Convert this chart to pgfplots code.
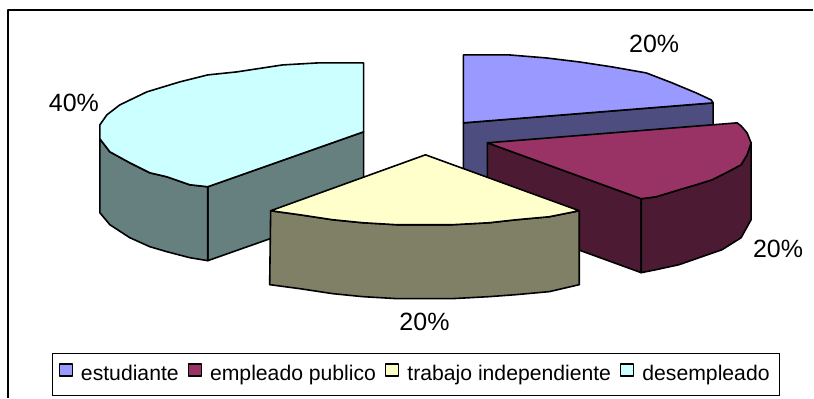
\documentclass[border=0pt]{standalone}
\usepackage{pgfplots}
\pgfplotsset{compat=1.18}
\usepackage{fontspec}
\setmainfont{Liberation Sans}
\definecolor{ctopA}{HTML}{9999FF}\definecolor{csideA}{HTML}{4D4D80}
\definecolor{ctopB}{HTML}{993366}\definecolor{csideB}{HTML}{4D1A33}
\definecolor{ctopC}{HTML}{FFFFCC}\definecolor{csideC}{HTML}{808066}
\definecolor{ctopD}{HTML}{CCFFFF}\definecolor{csideD}{HTML}{668080}
\begin{document}
\begin{tikzpicture}
\begin{axis}[
  scale only axis, width=814pt, height=398pt,
  xmin=0, xmax=814, ymin=0, ymax=398, y dir=reverse,
  hide axis, clip=false,
  every axis plot/.append style={draw=black, line width=1.6pt, line join=round},
  legend columns=4,
  legend style={at={(axis cs:52,353)}, anchor=north west, draw=black, line width=1.4pt,
    font=\fontsize{21.2pt}{24pt}\selectfont, inner xsep=6pt, inner ysep=10pt,
    nodes={inner sep=0pt, text height=16pt, text depth=5pt},
    /tikz/every even column/.append style={column sep=9pt},
    /tikz/every odd column/.append style={column sep=8pt}},
  legend image code/.code={\draw[#1, line width=1.4pt] (0pt,-1pt) rectangle (13pt,11pt);},
]
% page extent
\addplot[draw=none, forget plot] coordinates {(0,0) (814,398)};
% outer frame
\addplot[line width=2pt, forget plot] coordinates {(8,398) (8,10) (814,10)};
% estudiante
\addplot[fill=csideA, forget plot] coordinates {(464,123) (714,103) (714,177) (464,197)} -- cycle;
\addplot[fill=ctopA, forget plot] coordinates {(464,55) (510,55) (547,58) (580,62) (613,67) (647,73) (673,83) (697,93) (712,100) (714,103) (464,123)} -- cycle;
% desempleado
\addplot[fill=csideD, forget plot] coordinates {(208,187) (364,132) (364,206) (208,261)} -- cycle;
\addplot[fill=csideD, forget plot] coordinates {(100,139) (110,152) (130,163) (150,173) (167,177) (190,185) (208,187) (208,261) (190,258) (167,252) (150,247) (130,238) (110,225) (100,213)} -- cycle;
\addplot[fill=ctopD, forget plot] coordinates {(364,63) (318,63) (283,65) (237,72) (208,75) (180,82) (147,92) (120,105) (107,115) (100,125) (100,139) (110,152) (130,163) (150,173) (167,177) (190,185) (208,187) (364,132)} -- cycle;
% empleado publico
\addplot[fill=csideB, forget plot] coordinates {(488,143) (642,199) (642,273) (488,217)} -- cycle;
\addplot[fill=csideB, forget plot] coordinates {(642,199) (657,197) (680,190) (697,185) (713,180) (727,173) (742,165) (748,155) (752,143) (752,220) (742,238) (723,250) (700,258) (680,265) (657,270) (642,273)} -- cycle;
\addplot[fill=ctopB, forget plot] coordinates {(488,143) (738,123) (742,126) (748,133) (752,143) (748,155) (742,165) (727,173) (713,180) (697,185) (680,190) (657,197) (642,199)} -- cycle;
% trabajo independiente
\addplot[fill=csideC, forget plot] coordinates {(271,211) (300,215) (333,220) (363,223) (397,225) (453,225) (490,223) (517,220) (550,217) (580,211) (580,285) (550,292) (517,295) (490,297) (453,299) (397,299) (363,297) (333,294) (300,289) (270,285)} -- cycle;
\addplot[fill=ctopC, forget plot] coordinates {(426,155) (580,211) (550,217) (517,220) (490,223) (453,225) (397,225) (363,223) (333,220) (300,215) (271,211)} -- cycle;
\node[font=\fontsize{25pt}{27pt}\selectfont] at (axis cs:655,44) {20\%};
\node[font=\fontsize{25pt}{27pt}\selectfont] at (axis cs:779,249) {20\%};
\node[font=\fontsize{25pt}{27pt}\selectfont] at (axis cs:425,322) {20\%};
\node[font=\fontsize{25pt}{27pt}\selectfont] at (axis cs:74,103) {40\%};
\addlegendimage{fill=ctopA, draw=black}
\addlegendentry{estudiante}
\addlegendimage{fill=ctopB, draw=black}
\addlegendentry{empleado publico}
\addlegendimage{fill=ctopC, draw=black}
\addlegendentry{trabajo independiente}
\addlegendimage{fill=ctopD, draw=black}
\addlegendentry{desempleado\hspace*{4pt}}
\end{axis}
\end{tikzpicture}
\end{document}
